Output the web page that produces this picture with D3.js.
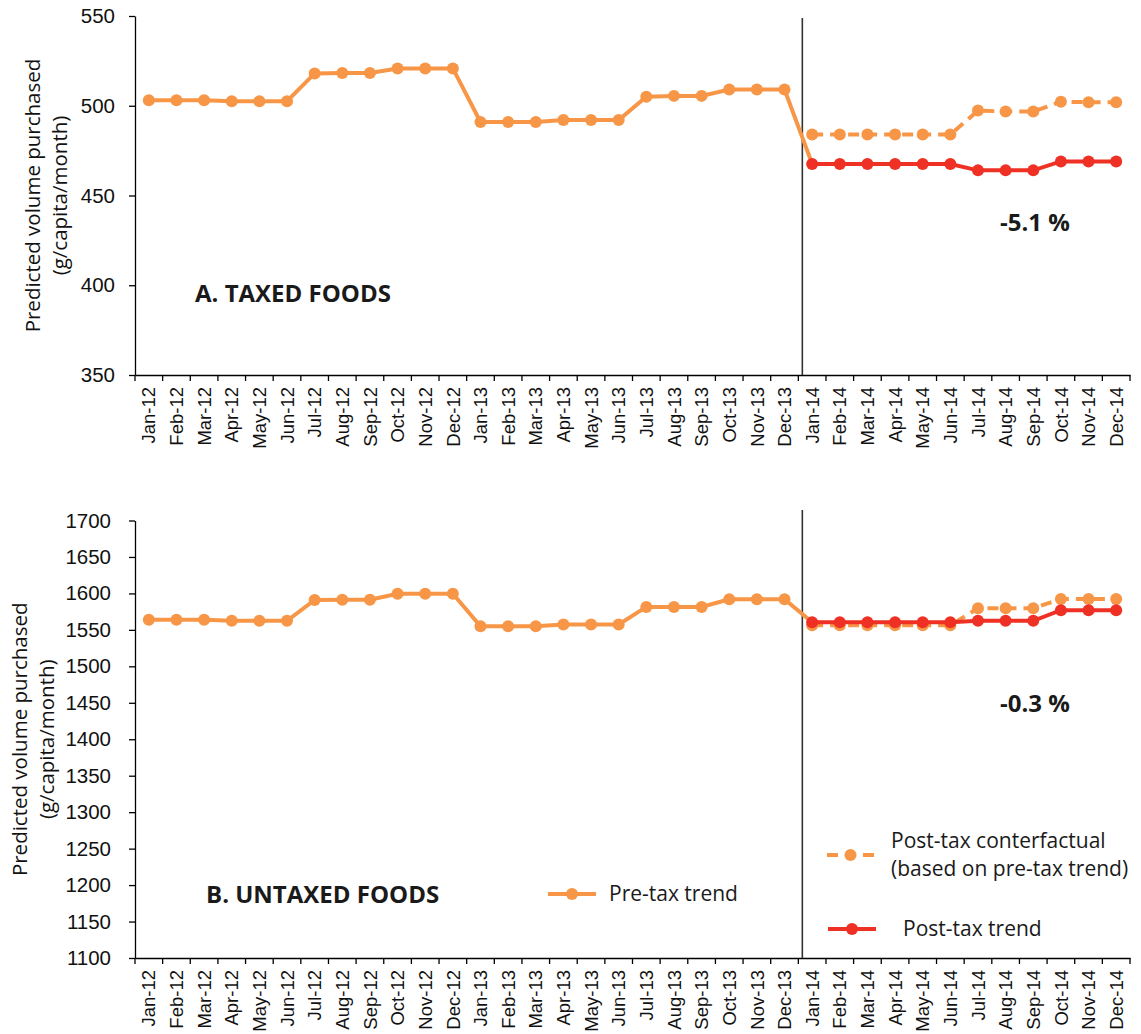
<!DOCTYPE html>
<html>
<head>
<meta charset="utf-8">
<script src="https://cdn.jsdelivr.net/npm/d3@7"></script>
<style>
    body { margin: 0; background: #fff; }
    svg { display: block; font-family: 'Open Sans', sans-serif; }
    .domain { stroke: #000; stroke-width: 1.3; }
    .tick line { stroke: #000; stroke-width: 1.3; }
    .tick text { fill: #111; }
</style>
</head>
<body>
<div id="chart"></div>
<script>
// ============================================================
// Data
// ============================================================
const months = [
    'Jan-12', 'Feb-12', 'Mar-12', 'Apr-12', 'May-12', 'Jun-12', 'Jul-12', 'Aug-12', 'Sep-12', 'Oct-12', 'Nov-12', 'Dec-12',
    'Jan-13', 'Feb-13', 'Mar-13', 'Apr-13', 'May-13', 'Jun-13', 'Jul-13', 'Aug-13', 'Sep-13', 'Oct-13', 'Nov-13', 'Dec-13',
    'Jan-14', 'Feb-14', 'Mar-14', 'Apr-14', 'May-14', 'Jun-14', 'Jul-14', 'Aug-14', 'Sep-14', 'Oct-14', 'Nov-14', 'Dec-14'
];
const preMonths = months.slice(0, 24);
const postMonths = months.slice(24);

// A. taxed foods
const taxedPre = [503, 503, 503, 502.5, 502.5, 502.5, 518, 518.2, 518.2, 520.8, 520.8, 520.8,
    491, 491, 491, 492, 492, 492, 505, 505.5, 505.5, 509, 509, 509];
const taxedCounter = [484, 484, 484, 484, 484, 484, 497.3, 496.8, 496.8, 502.2, 502, 502];
const taxedPost = [467.6, 467.6, 467.6, 467.5, 467.5, 467.5, 464, 464, 464, 469, 469, 469];
const taxedTicks = [350, 400, 450, 500, 550];

// B. untaxed foods
const untaxedPre = [1564, 1564, 1564, 1562.5, 1562.5, 1562.5, 1591, 1591.4, 1591.4, 1599.5, 1599.5, 1599.5,
    1555, 1555, 1555, 1557.5, 1557.5, 1557.5, 1581.5, 1581.5, 1581.5, 1592, 1592, 1592];
const untaxedCounter = [1556.5, 1556.5, 1556.5, 1556.5, 1556.5, 1556.5, 1579.5, 1579.5, 1579.5, 1592.5, 1592.5, 1592.5];
const untaxedPost = [1560.5, 1560.5, 1560.5, 1560.5, 1560.5, 1560.5, 1562.5, 1562.5, 1562.5, 1577, 1577, 1577];
const untaxedTicks = [1100, 1150, 1200, 1250, 1300, 1350, 1400, 1450, 1500, 1550, 1600, 1650, 1700];

const ORANGE = '#F79646';
const RED = '#EE3124';

const W = 1141, H = 1034;
const LEFT = 135, RIGHT = 1130;

const svg = d3.select('#chart').append('svg')
    .attr('width', W)
    .attr('height', H);

const x = d3.scaleBand().domain(months).range([LEFT, RIGHT]);
const cx = m => x(m) + x.bandwidth() / 2;

// ============================================================
// One panel
// ============================================================
function drawPanel(p) {
    const y = d3.scaleLinear().domain([p.ticks[0], p.ticks[p.ticks.length - 1]]).range([p.bottom, p.top]);
    const g = svg.append('g');

    // y axis
    g.append('g')
        .attr('transform', `translate(${LEFT},0)`)
        .call(d3.axisLeft(y).tickValues(p.ticks).tickFormat(d3.format('d'))
            .tickSize(6).tickPadding(p.pad).tickSizeOuter(0))
        .selectAll('text').style('font-size', '20.5px');

    // x axis: labels at band centres, ticks at the band edges
    const xa = g.append('g')
        .attr('transform', `translate(0,${p.bottom})`)
        .call(d3.axisBottom(x).tickSize(0).tickSizeOuter(0));
    xa.selectAll('text')
        .style('font-size', '18.5px')
        .attr('text-anchor', 'end')
        .attr('transform', 'rotate(-90)')
        .attr('x', -12)
        .attr('y', 0)
        .attr('dy', '0.36em');
    g.selectAll('.edge')
        .data(months.map(m => x(m)).concat([x.range()[1]]))
        .enter().append('line')
        .attr('x1', d => d).attr('x2', d => d)
        .attr('y1', p.bottom).attr('y2', p.bottom + 6)
        .attr('stroke', '#000').attr('stroke-width', 1.3);

    // tax introduction line
    const vx = x('Jan-14') + 4;
    g.append('line')
        .attr('x1', vx).attr('x2', vx)
        .attr('y1', p.lineTop).attr('y2', p.bottom)
        .attr('stroke', '#333').attr('stroke-width', 1.6);

    // y title
    const tg = g.append('text')
        .attr('transform', `translate(${p.titleX},${(p.top + p.bottom) / 2}) rotate(-90)`)
        .attr('text-anchor', 'middle')
        .style('font-size', '20.5px')
        .attr('fill', '#111');
    tg.append('tspan').attr('x', 0).attr('dy', '0.35em').text('Predicted volume purchased');
    tg.append('tspan').attr('x', 0).attr('dy', 27).text('(g/capita/month)');

    const line = d3.line().x(d => cx(d.m)).y(d => y(d.v));

    const pre = preMonths.map((m, i) => ({ m, v: p.pre[i] }));
    const counter = postMonths.map((m, i) => ({ m, v: p.counter[i] }));
    const post = postMonths.map((m, i) => ({ m, v: p.post[i] }));

    // pre-tax trend (runs on to the first post-tax point)
    g.append('path')
        .datum(pre.concat([post[0]]))
        .attr('d', line)
        .attr('fill', 'none').attr('stroke', ORANGE).attr('stroke-width', 4);
    g.selectAll('.pre').data(pre).enter().append('circle')
        .attr('cx', d => cx(d.m)).attr('cy', d => y(d.v)).attr('r', 6).attr('fill', ORANGE);

    // counterfactual
    g.append('path')
        .datum(counter)
        .attr('d', line)
        .attr('fill', 'none').attr('stroke', ORANGE).attr('stroke-width', 4)
        .attr('stroke-dasharray', '11,7');
    g.selectAll('.cf').data(counter).enter().append('circle')
        .attr('cx', d => cx(d.m)).attr('cy', d => y(d.v)).attr('r', 6).attr('fill', ORANGE);

    // post-tax trend
    g.append('path')
        .datum(post)
        .attr('d', line)
        .attr('fill', 'none').attr('stroke', RED).attr('stroke-width', 4);
    g.selectAll('.post').data(post).enter().append('circle')
        .attr('cx', d => cx(d.m)).attr('cy', d => y(d.v)).attr('r', 6).attr('fill', RED);

    // labels
    g.append('text')
        .attr('x', p.label[0]).attr('y', p.label[1])
        .style('font-size', '24px').style('font-weight', 'bold')
        .attr('fill', '#1a1a1a')
        .text(p.name);
    g.append('text')
        .attr('x', 1000).attr('y', p.pct[1])
        .style('font-size', '24px').style('font-weight', 'bold')
        .attr('fill', '#1a1a1a')
        .text(p.pct[0]);

    return g;
}

drawPanel({
    top: 16, bottom: 375, lineTop: 18, titleX: 33, pad: 14,
    ticks: taxedTicks, pre: taxedPre, counter: taxedCounter, post: taxedPost,
    name: 'A. TAXED FOODS', label: [195, 302], pct: ['-5.1 %', 231]
});

drawPanel({
    top: 520.5, bottom: 958, lineTop: 510, titleX: 20, pad: 18,
    ticks: untaxedTicks, pre: untaxedPre, counter: untaxedCounter, post: untaxedPost,
    name: 'B. UNTAXED FOODS', label: [206, 903], pct: ['-0.3 %', 712]
});

// ============================================================
// Legend (bottom panel)
// ============================================================
const legend = [
    { x1: 548, x2: 596, y: 894, color: ORANGE, dash: null, tx: 609, lines: ['Pre-tax trend'] },
    { x1: 827, x2: 874, y: 855, color: ORANGE, dash: '11,7', tx: 891, lines: ['Post-tax conterfactual', '(based on pre-tax trend)'] },
    { x1: 828, x2: 876, y: 929, color: RED, dash: null, tx: 903, lines: ['Post-tax trend'] }
];

const lg = svg.append('g');
legend.forEach(d => {
    lg.append('line')
        .attr('x1', d.x1).attr('x2', d.x2).attr('y1', d.y).attr('y2', d.y)
        .attr('stroke', d.color).attr('stroke-width', 4)
        .attr('stroke-dasharray', d.dash);
    lg.append('circle')
        .attr('cx', (d.x1 + d.x2) / 2).attr('cy', d.y).attr('r', 6).attr('fill', d.color);
    const n = d.lines.length;
    d.lines.forEach((t, i) => {
        lg.append('text')
            .attr('x', d.tx)
            .attr('y', d.y + (i - (n - 1) / 2) * 28)
            .attr('dy', '0.35em')
            .style('font-size', '21px')
            .attr('fill', '#1a1a1a')
            .text(t);
    });
});
</script>
</body>
</html>
